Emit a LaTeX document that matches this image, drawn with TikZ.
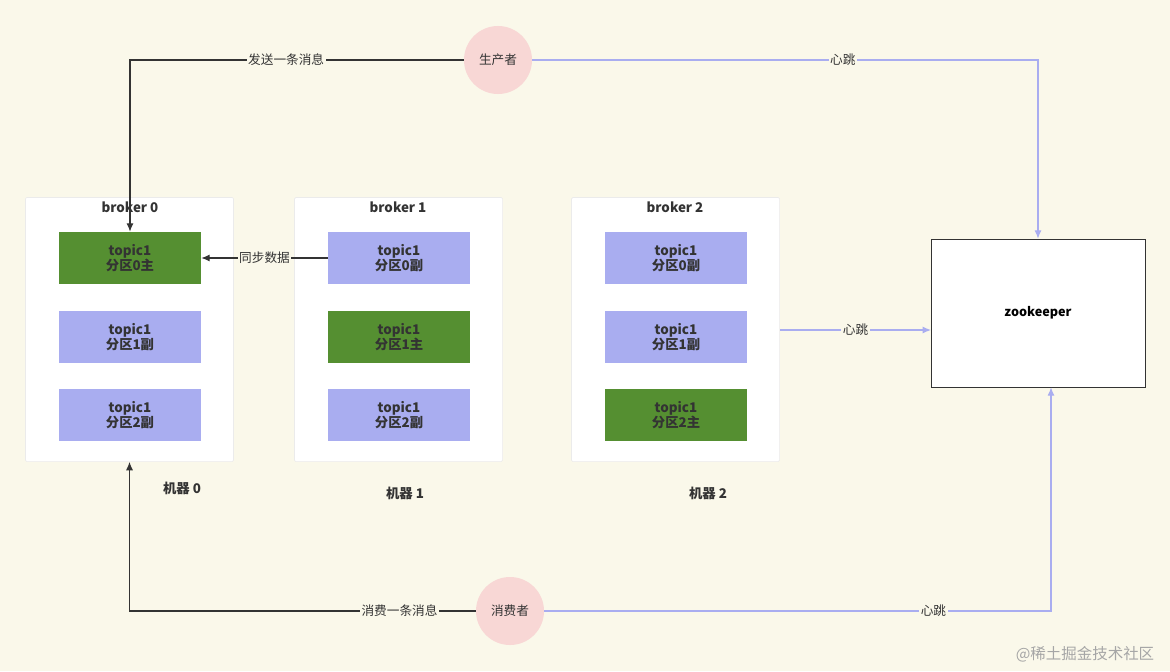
\documentclass[tikz,border=0pt]{standalone}
\usepackage{fontspec}
\setmainfont{Noto Sans CJK SC}
\usetikzlibrary{positioning,arrows.meta}
\definecolor{bg}{HTML}{FAF8EA}
\definecolor{grn}{HTML}{558F31}
\definecolor{blu}{HTML}{A9ADF0}
\definecolor{pnk}{HTML}{F8D7D5}
\definecolor{dk}{HTML}{333333}
\tikzset{
  broker/.style={draw=black!8,fill=white,minimum width=5.2cm,minimum height=6.6cm,rounded corners=1pt},
  topic/.style={minimum width=3.55cm,minimum height=1.3cm,align=center,font=\fontsize{9.5}{11}\selectfont\bfseries,text=dk},
  lead/.style={topic,fill=grn},
  copy/.style={topic,fill=blu},
  role/.style={circle,fill=pnk,minimum size=1.7cm,font=\fontsize{9}{10}\selectfont,text=dk},
  lbl/.style={fill=bg,inner sep=1pt,font=\fontsize{9}{10}\selectfont,text=dk},
  title/.style={font=\fontsize{9.5}{11}\selectfont\bfseries,text=dk},
  send/.style={draw=dk,line width=0.8pt,-{Latex[length=6pt,width=5pt]}},
  beat/.style={draw=blu,line width=0.8pt,-{Latex[length=6pt,width=5pt]}}
}
\begin{document}
\begin{tikzpicture}[x=0.025cm,y=-0.025cm]
\fill[bg] (0,0) rectangle (1170,671);
\useasboundingbox (0,0) rectangle (1170,671);

\node[broker] (b0) at (129.5,329.5) {};
\node[broker] (b1) at (398.5,329.5) {};
\node[broker] (b2) at (675.5,329.5) {};
\node[title] at (130,207) {broker 0};
\node[title] at (398,207) {broker 1};
\node[title] at (675,207) {broker 2};

\node[lead] (t00) at (130,258) {topic1\\分区0主};
\node[copy] (t01) at (130,337) {topic1\\分区1副};
\node[copy] (t02) at (130,415) {topic1\\分区2副};
\node[copy] (t10) at (399,258) {topic1\\分区0副};
\node[lead] (t11) at (399,337) {topic1\\分区1主};
\node[copy] (t12) at (399,415) {topic1\\分区2副};
\node[copy] (t20) at (676,258) {topic1\\分区0副};
\node[copy] (t21) at (676,337) {topic1\\分区1副};
\node[lead] (t22) at (676,415) {topic1\\分区2主};

\node[title] at (182,488) {机器 0};
\node[title] at (405,493) {机器 1};
\node[title] at (708,493) {机器 2};

\node[draw=dk,fill=white,minimum width=5.35cm,minimum height=3.7cm,font=\fontsize{9}{10}\selectfont\bfseries] (zk) at (1038,313) {zookeeper};
\node[role] (prod) at (498,60) {生产者};
\node[role] (cons) at (510,611) {消费者};
\coordinate (zkin) at (931,330);
\coordinate (b2out) at (780,330);

\draw[send] (prod.west) -| node[lbl,pos=0.266] {发送一条消息} (t00.north);
\draw[send] (t10.west) -- node[lbl] {同步数据} (t00.east);
\draw[send] (cons.west) -| node[lbl,pos=0.11] {消费一条消息} (b0.south);
\draw[beat] (prod.east) -| node[lbl,pos=0.307] {心跳} (zk.north);
\draw[beat] (b2out) -- node[lbl] {心跳} (zkin);
\draw[beat] (cons.east) -| node[lbl,pos=0.384] {心跳} ([xshift=13*0.025cm]zk.south);

\node[text=black!35,font=\fontsize{11}{13}\selectfont] (wm) at (1085,654) {@稀土掘金技术社区};
\end{tikzpicture}
\end{document}
